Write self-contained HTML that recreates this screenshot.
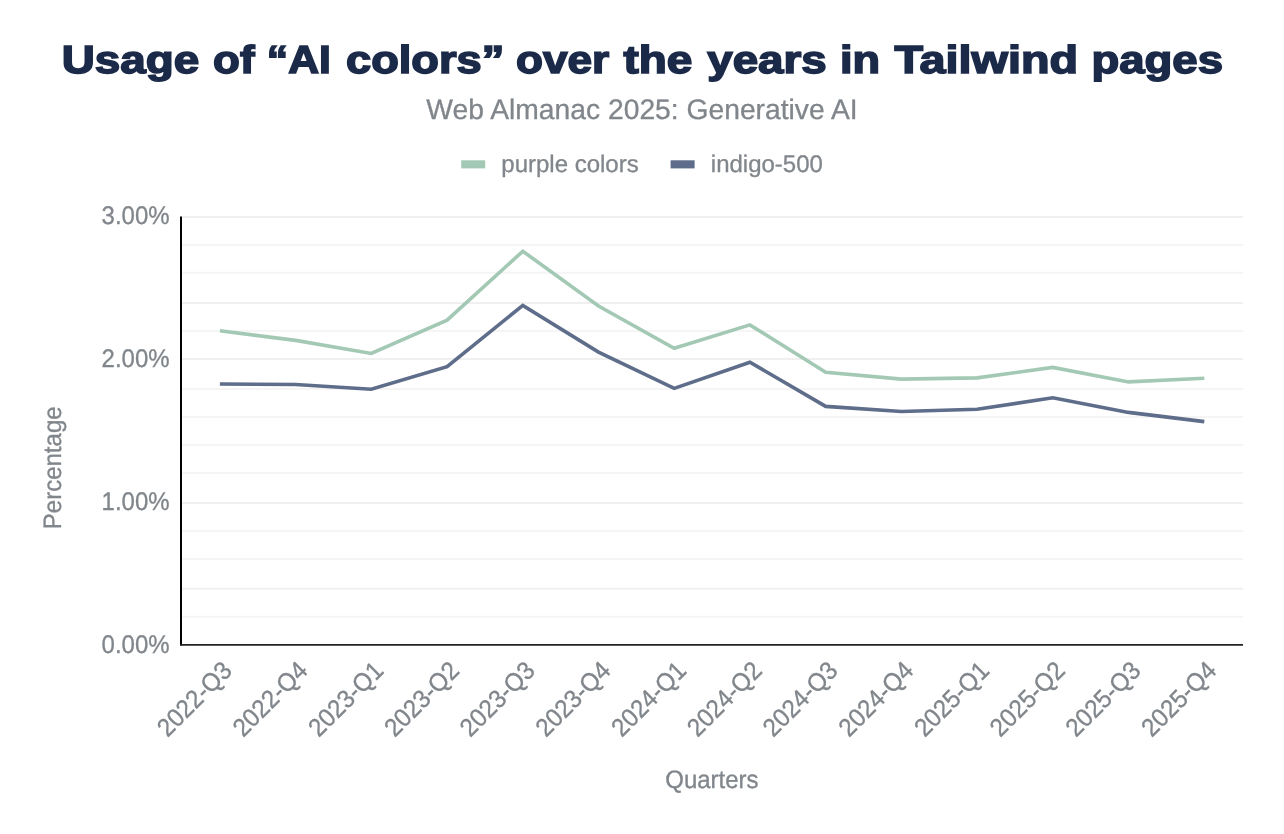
<!DOCTYPE html>
<html><head><meta charset="utf-8"><style>
html,body{margin:0;padding:0;background:#fff;}
svg{display:block;will-change:transform;}
text{font-family:"Liberation Sans",Arial,sans-serif;text-rendering:geometricPrecision;}
.g{fill:#80868b;stroke:#80868b;stroke-width:0.3;}
</style></head><body>
<svg width="1284" height="834" viewBox="0 0 1284 834">
<rect width="1284" height="834" fill="#fff"/>
<g font-size="39" font-weight="700" fill="#1b2a48" stroke="#1b2a48" stroke-width="1.6"><text transform="translate(61.68 73.2) scale(1.1747 1)">Usage</text> <text transform="translate(213.05 73.2) scale(1.1264 1)">of</text> <text transform="translate(266.83 73.2) scale(1.0936 1)">“AI</text> <text transform="translate(346.03 73.2) scale(1.159 1)">colors”</text> <text transform="translate(515.95 73.2) scale(1.131 1)">over</text> <text transform="translate(623.49 73.2) scale(1.1785 1)">the</text> <text transform="translate(707.24 73.2) scale(1.1709 1)">years</text> <text transform="translate(840.08 73.2) scale(1.1569 1)">in</text> <text transform="translate(894.43 73.2) scale(1.1991 1)">Tailwind</text> <text transform="translate(1091.43 73.2) scale(1.1669 1)">pages</text></g>
<text transform="translate(642 119)" text-anchor="middle" font-size="28.25" class="g">Web Almanac 2025: Generative AI</text>
<rect x="461.2" y="160.3" width="24" height="8.1" fill="#a3c9b5"/>
<text transform="translate(501.3 172.0)" font-size="24" class="g">purple colors</text>
<rect x="670.6" y="160.3" width="24" height="8.1" fill="#5e6d8a"/>
<text transform="translate(710.8 171.8)" font-size="24" class="g">indigo-500</text>
<g stroke-width="2"><line x1="182" x2="1243" y1="216.95" y2="216.95" stroke="#f0f0f0"/><line x1="182" x2="1243" y1="245.00" y2="245.00" stroke="#f5f5f5"/><line x1="182" x2="1243" y1="272.80" y2="272.80" stroke="#f5f5f5"/><line x1="182" x2="1243" y1="303.00" y2="303.00" stroke="#f0f0f0"/><line x1="182" x2="1243" y1="331.00" y2="331.00" stroke="#f5f5f5"/><line x1="182" x2="1243" y1="358.90" y2="358.90" stroke="#f0f0f0"/><line x1="182" x2="1243" y1="388.90" y2="388.90" stroke="#f5f5f5"/><line x1="182" x2="1243" y1="416.90" y2="416.90" stroke="#f5f5f5"/><line x1="182" x2="1243" y1="444.90" y2="444.90" stroke="#f5f5f5"/><line x1="182" x2="1243" y1="472.90" y2="472.90" stroke="#f5f5f5"/><line x1="182" x2="1243" y1="503.00" y2="503.00" stroke="#f0f0f0"/><line x1="182" x2="1243" y1="531.00" y2="531.00" stroke="#f5f5f5"/><line x1="182" x2="1243" y1="558.90" y2="558.90" stroke="#f5f5f5"/><line x1="182" x2="1243" y1="588.70" y2="588.70" stroke="#f0f0f0"/><line x1="182" x2="1243" y1="616.70" y2="616.70" stroke="#f5f5f5"/></g>
<polyline points="219.9,330.7 295.6,340.4 371.3,353.5 447.1,320.2 522.8,251.2 598.5,306.0 674.2,348.3 749.9,324.9 825.7,372.2 901.4,379.1 977.1,377.9 1052.8,367.4 1128.5,381.9 1204.3,378.2" fill="none" stroke="#a3c9b5" stroke-width="3.6" stroke-linejoin="miter"/>
<polyline points="219.9,384.0 295.6,384.5 371.3,389.2 447.1,366.6 522.8,305.4 598.5,352.1 674.2,388.4 749.9,362.2 825.7,406.4 901.4,411.5 977.1,409.3 1052.8,397.8 1128.5,412.4 1204.3,421.6" fill="none" stroke="#5e6d8a" stroke-width="3.6" stroke-linejoin="miter"/>
<line x1="181" x2="181" y1="216.5" y2="645.5" stroke="#000" stroke-width="2"/>
<line x1="180" x2="1243" y1="644.8" y2="644.8" stroke="#222" stroke-width="1.8"/>
<g font-size="24" class="g">
<text transform="translate(169.6 214.90) scale(1 1.06)" x="0" y="8.6" text-anchor="end">3.00%</text> <text transform="translate(169.6 357.80) scale(1 1.06)" x="0" y="8.6" text-anchor="end">2.00%</text> <text transform="translate(169.6 500.70) scale(1 1.06)" x="0" y="8.6" text-anchor="end">1.00%</text> <text transform="translate(169.6 643.90) scale(1 1.06)" x="0" y="8.6" text-anchor="end">0.00%</text>
<text transform="translate(233.5 672.0) rotate(-45) scale(1 1.06)" text-anchor="end">2022-Q3</text> <text transform="translate(309.2 672.0) rotate(-45) scale(1 1.06)" text-anchor="end">2022-Q4</text> <text transform="translate(384.9 672.0) rotate(-45) scale(1 1.06)" text-anchor="end">2023-Q1</text> <text transform="translate(460.7 672.0) rotate(-45) scale(1 1.06)" text-anchor="end">2023-Q2</text> <text transform="translate(536.4 672.0) rotate(-45) scale(1 1.06)" text-anchor="end">2023-Q3</text> <text transform="translate(612.1 672.0) rotate(-45) scale(1 1.06)" text-anchor="end">2023-Q4</text> <text transform="translate(687.8 672.0) rotate(-45) scale(1 1.06)" text-anchor="end">2024-Q1</text> <text transform="translate(763.5 672.0) rotate(-45) scale(1 1.06)" text-anchor="end">2024-Q2</text> <text transform="translate(839.3 672.0) rotate(-45) scale(1 1.06)" text-anchor="end">2024-Q3</text> <text transform="translate(915.0 672.0) rotate(-45) scale(1 1.06)" text-anchor="end">2024-Q4</text> <text transform="translate(990.7 672.0) rotate(-45) scale(1 1.06)" text-anchor="end">2025-Q1</text> <text transform="translate(1066.4 672.0) rotate(-45) scale(1 1.06)" text-anchor="end">2025-Q2</text> <text transform="translate(1142.1 672.0) rotate(-45) scale(1 1.06)" text-anchor="end">2025-Q3</text> <text transform="translate(1217.9 672.0) rotate(-45) scale(1 1.06)" text-anchor="end">2025-Q4</text>
<text transform="translate(711.9 787.9) scale(1 1.05)" text-anchor="middle">Quarters</text>
<text text-anchor="middle" transform="translate(60.6 467.8) rotate(-90) scale(1 1.05)">Percentage</text>
</g>
</svg>
</body></html>
